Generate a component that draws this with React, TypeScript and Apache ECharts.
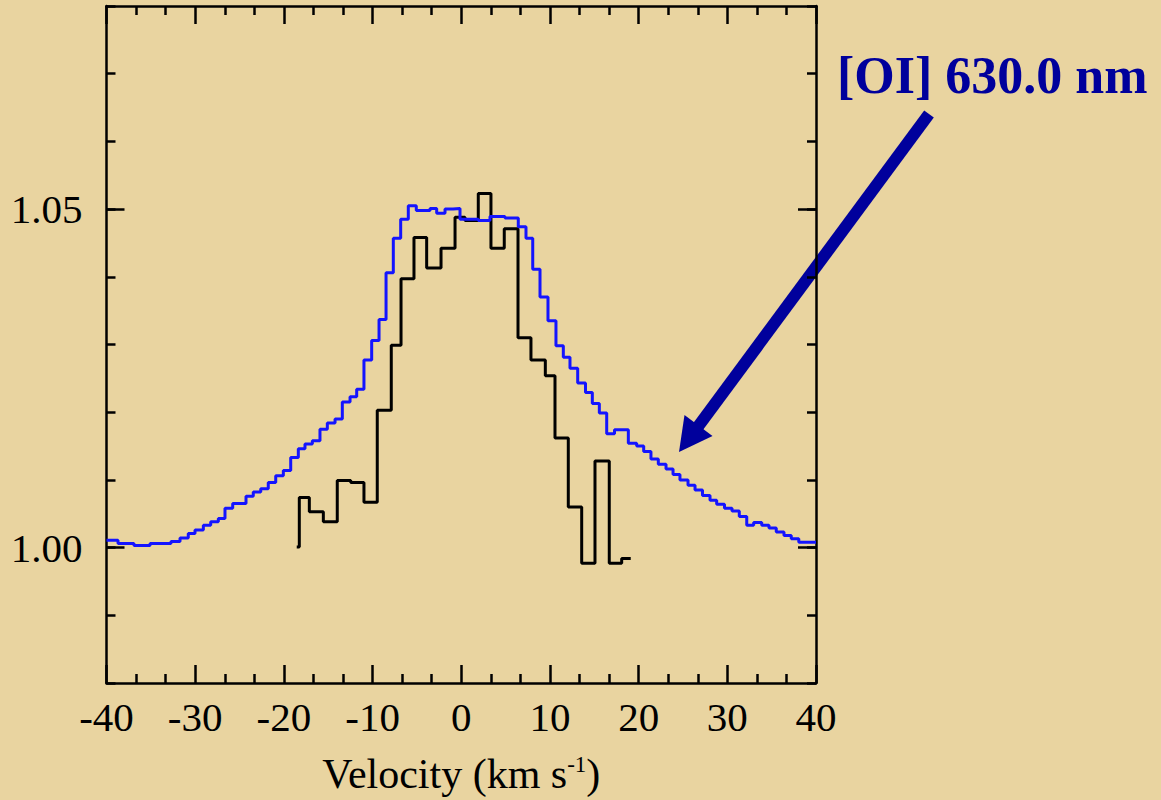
import React, { useEffect, useRef } from 'react';
import * as echarts from 'echarts';

// Blue profile: left bin edge (km/s) and normalised flux held until the next edge
const blueEdges = [
  -40.0, -38.7, -36.9, -35.09, -32.73, -31.71, -30.78, -30.02, -29.08, -28.25,
  -27.39, -26.64, -25.77, -24.27, -23.45, -22.61, -21.76, -20.92, -20.06, -19.23,
  -18.37, -17.62, -16.79, -15.93, -15.1, -14.23, -13.41, -12.54, -11.79, -10.97,
  -10.1, -9.27, -8.48, -7.66, -6.83, -5.97, -5.07, -3.52, -2.77, -1.83,
  -0.93, -0.14, 1.92, 3.24, 4.93, 6.43, 7.3, 8.06, 8.88, 9.78,
  10.68, 11.51, 12.26, 13.13, 14.01, 14.78, 15.57, 16.4, 17.28, 18.84,
  19.78, 20.57, 21.39, 22.22, 23.09, 23.88, 24.66, 25.57, 26.36, 27.2,
  28.05, 28.8, 29.68, 30.53, 31.35, 32.19, 32.97, 33.88, 34.7, 35.52,
  36.39, 37.21, 38.06, 40.0,
];
const blueFlux = [
  1.0011, 1.0006, 1.0003, 1.0006, 1.0009, 1.0014, 1.0021, 1.0026, 1.0033, 1.0038,
  1.0043, 1.0058, 1.0065, 1.0076, 1.0082, 1.0087, 1.0096, 1.0106, 1.0114, 1.0133,
  1.0146, 1.0153, 1.0158, 1.0175, 1.0184, 1.019, 1.0215, 1.0223, 1.0234, 1.0277,
  1.0306, 1.0337, 1.0406, 1.0457, 1.0485, 1.0505, 1.0498, 1.0501, 1.0494, 1.05,
  1.0501, 1.0485, 1.0483, 1.0489, 1.0487, 1.0474, 1.0457, 1.0411, 1.037, 1.0335,
  1.0298, 1.0281, 1.0265, 1.0243, 1.0229, 1.0213, 1.0199, 1.0168, 1.0174, 1.0154,
  1.015, 1.0142, 1.0131, 1.0123, 1.0116, 1.0108, 1.01, 1.0092, 1.0085, 1.0077,
  1.007, 1.0064, 1.0058, 1.0054, 1.0046, 1.0033, 1.0037, 1.0033, 1.0029, 1.0023,
  1.0018, 1.0013, 1.0008, 1.0008,
];

// Black profile: left bin edge (km/s) and normalised flux
const blackEdges = [
  -18.55, -18.26, -17.13, -15.55, -13.98, -12.46, -10.97, -9.47, -7.89, -6.79,
  -5.33, -3.9, -2.28, -0.7, 0.42, 1.92, 3.35, 4.85, 6.4, 7.86,
  9.48, 10.57, 12.07, 13.58, 15.08, 16.69, 18.09, 19.11,
];
const blackFlux = [
  1.0001, 1.0074, 1.0053, 1.0038, 1.0099, 1.0096, 1.0067, 1.0203, 1.0299, 1.0397,
  1.0458, 1.0413, 1.0442, 1.0488, 1.0483, 1.0523, 1.0442, 1.0471, 1.031, 1.0277,
  1.0254, 1.0162, 1.006, 0.9977, 1.0128, 0.9977, 0.9984, 0.9984,
];

const velocityRange = [-40, 40];
const fluxRange = [0.98, 1.08];
const labelledFlux = [1.0, 1.05];

const FONT = '"Liberation Serif", "Times New Roman", Times, serif';
const BG = '#e9d4a0';
const INK = '#000000';
const ARROW = '#00009c';

export default function App() {
  const ref = useRef<HTMLDivElement>(null);

  useEffect(() => {
    document.body.style.margin = '0';
    document.body.style.background = BG;
    const chart = echarts.init(ref.current!, null, { renderer: 'svg' });

    const frameLine = { show: true, onZero: false, lineStyle: { color: INK, width: 2.5 } };
    const tickLine = { color: INK, width: 2.5 };

    const xCommon = {
      type: 'value',
      min: velocityRange[0],
      max: velocityRange[1],
      interval: 10,
      axisLine: frameLine,
      axisTick: { show: true, inside: true, length: 18, lineStyle: tickLine },
      minorTick: { show: true, splitNumber: 3, length: 9, lineStyle: tickLine },
      splitLine: { show: false },
      minorSplitLine: { show: false },
    };

    const yMinor = {
      type: 'value',
      min: fluxRange[0],
      max: fluxRange[1],
      interval: 0.01,
      axisLine: frameLine,
      axisTick: { show: true, inside: true, length: 9, lineStyle: tickLine },
      splitLine: { show: false },
    };

    // Longer ticks at the labelled flux levels
    const yMajor = {
      type: 'value',
      min: fluxRange[0],
      max: fluxRange[1],
      axisLine: { show: false, onZero: false },
      axisTick: { show: true, inside: true, length: 18, lineStyle: tickLine, customValues: labelledFlux },
      axisLabel: { show: false },
      splitLine: { show: false },
    };

    const option = {
      animation: false,
      backgroundColor: BG,
      grid: { left: 106.5, right: 345, top: 6, bottom: 112, containLabel: false },
      xAxis: [
        {
          ...xCommon,
          position: 'bottom',
          axisLabel: { margin: 13, fontSize: 41, fontFamily: FONT, color: INK },
          name: '{n|Velocity (km s}{s|-1}{n|)}',
          nameLocation: 'middle',
          nameGap: 70,
          nameTextStyle: {
            fontFamily: FONT,
            fontSize: 42,
            color: INK,
            rich: {
              n: { fontFamily: FONT, fontSize: 42, color: INK },
              s: { fontFamily: FONT, fontSize: 23, color: INK, verticalAlign: 'top' },
            },
          },
        },
        { ...xCommon, position: 'top', axisLabel: { show: false } },
      ],
      yAxis: [
        {
          ...yMinor,
          position: 'left',
          axisLabel: {
            margin: 24,
            fontSize: 41,
            fontFamily: FONT,
            color: INK,
            formatter: (v: number) =>
              labelledFlux.some((t) => Math.abs(t - v) < 1e-6) ? v.toFixed(2) : '',
          },
        },
        { ...yMajor, position: 'left' },
        { ...yMinor, position: 'right', axisLabel: { show: false } },
        { ...yMajor, position: 'right' },
      ],
      series: [
        {
          name: 'black',
          type: 'line',
          step: 'end',
          xAxisIndex: 0,
          yAxisIndex: 0,
          symbol: 'none',
          clip: true,
          lineStyle: { color: '#000000', width: 3 },
          data: blackEdges.map((v, i) => [v, blackFlux[i]]),
          z: 2,
        },
        {
          name: 'blue',
          type: 'line',
          step: 'end',
          xAxisIndex: 0,
          yAxisIndex: 0,
          symbol: 'none',
          clip: true,
          lineStyle: { color: '#1414ff', width: 3 },
          data: blueEdges.map((v, i) => [v, blueFlux[i]]),
          z: 3,
        },
      ],
      graphic: [
        {
          type: 'text',
          x: 837,
          y: 75,
          style: {
            text: '[OI] 630.0 nm',
            font: `bold 52px ${FONT}`,
            fill: ARROW,
            align: 'left',
            verticalAlign: 'middle',
          },
        },
        {
          type: 'line',
          shape: { x1: 929, y1: 114, x2: 697, y2: 428 },
          style: { stroke: ARROW, lineWidth: 12, lineCap: 'butt' },
        },
        {
          type: 'polygon',
          shape: { points: [[679, 452], [684.5, 415], [712.5, 436]] },
          style: { fill: ARROW },
        },
      ],
    };

    chart.setOption(option as any);
    return () => chart.dispose();
  }, []);

  return <div ref={ref} style={{ width: 1161, height: 800 }} />;
}
